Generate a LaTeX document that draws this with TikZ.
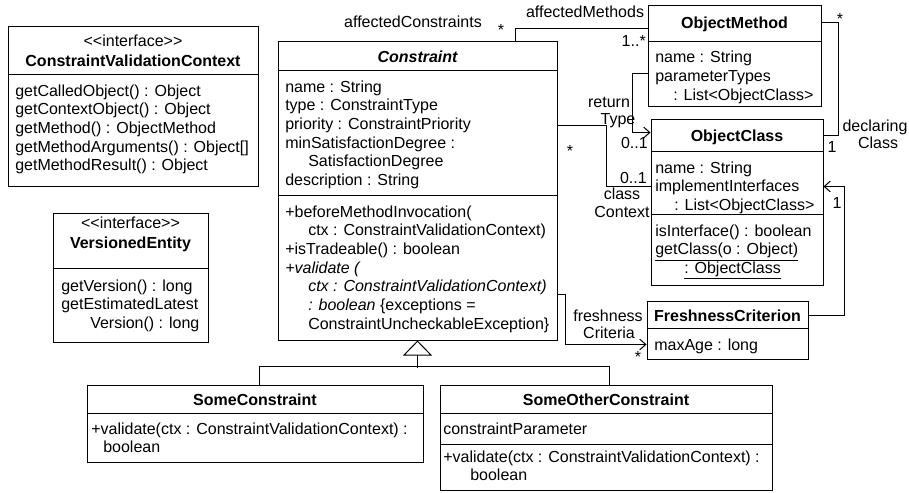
\documentclass[tikz,border=0pt]{standalone}
\usepackage{fontspec}
\setmainfont{Liberation Sans}
\usetikzlibrary{arrows.meta,calc,fit}

\begin{document}
\begin{tikzpicture}[x=0.75pt,y=-0.75pt,font=\fontsize{12}{14}\selectfont,
  box/.style = {draw,line width=0.75pt,inner sep=0pt},
  row/.style = {anchor=base west,inner sep=0pt},
  title/.style = {anchor=base,inner sep=0pt,font=\fontsize{12}{14}\selectfont\bfseries},
  lbl/.style = {anchor=base,inner sep=0pt},
  link/.style = {line width=0.75pt},
  nav/.style = {link,-{Straight Barb[length=4.5pt,width=8pt]}},
  gen/.style = {link,-{Triangle[open,length=11.25pt,width=21.75pt]}}]
\useasboundingbox (0,0) rectangle (909,492);
\node[box,fit={(8,27) (258,186)}] (cvc) {};
\node[box,fit={(53,213) (208,342)}] (ve) {};
\node[box,fit={(278,42) (557,340)}] (constraint) {};
\node[box,fit={(648,6) (821,106)}] (om) {};
\node[box,fit={(651,119) (823,285)}] (oc) {};
\node[box,fit={(647,301) (808,359)}] (fc) {};
\node[box,fit={(87,385) (423,462)}] (sc) {};
\node[box,fit={(440,385) (772,490)}] (soc) {};
\foreach \b/\d in {cvc/48, ve/56, constraint/29, constraint/154, om/36, oc/33, oc/96, fc/28, sc/29, soc/29, soc/60}
    \draw[link] ($(\b.north west)+(0,\d)$) -- ($(\b.north east)+(0,\d)$);
\node[lbl] (cvc-st) at (133,46) {<\kern0pt<interface>\kern0pt>};
\node[title] (cvc-t) at (133,66) {ConstraintValidationContext};
\node[lbl] (ve-st) at (130.5,228) {<\kern0pt<interface>\kern0pt>};
\node[title] (ve-t) at (130.5,248) {VersionedEntity};
\node[title] (constraint-t) at (417.5,63) {\itshape Constraint};
\node[title] (om-t) at (734.5,29) {ObjectMethod};
\node[title] (oc-t) at (737,141) {ObjectClass};
\node[title] (fc-t) at (727.5,321) {FreshnessCriterion};
\node[title] (sc-t) at (255,405) {SomeConstraint};
\node[title] (soc-t) at (606,405) {SomeOtherConstraint};
\foreach \t [count=\i from 0] in {getCalledObject() : Object, getContextObject() : Object, getMethod() : ObjectMethod, getMethodArguments() : Object[], getMethodResult() : Object}
    \node[row] (cvc-m\i) at (15,96+\i*18.67) {\t};
\foreach \dx/\t [count=\i from 0] in {0/getVersion() : long, 0/getEstimatedLatest, 29/Version() : long}
    \node[row] (ve-m\i) at (61+\dx,291+\i*18.67) {\t};
\foreach \dx/\t [count=\i from 0] in {0/name : String, 0/type : ConstraintType, 0/priority : ConstraintPriority, 0/minSatisfactionDegree :, 23/SatisfactionDegree, 0/description : String}
    \node[row] (constraint-a\i) at (285+\dx,92+\i*18.67) {\t};
\foreach \dx/\t [count=\i from 0] in {0/+beforeMethodInvocation(, 23/ctx : ConstraintValidationContext), 0/+isTradeable() : boolean, 0/\textit{+validate (}, 23/\textit{ctx : ConstraintValidationContext)}, 23/{\textit{: boolean} \{exceptions =}, 23/ConstraintUncheckableException\}}
    \node[row] (constraint-m\i) at (285+\dx,217+\i*18.67) {\t};
\foreach \dx/\t [count=\i from 0] in {0/name : String, 0/parameterTypes, 18/: List<ObjectClass>}
    \node[row] (om-a\i) at (655+\dx,63+\i*18.67) {\t};
\foreach \dx/\t [count=\i from 0] in {0/name : String, 0/implementInterfaces, 19/: List<ObjectClass>}
    \node[row] (oc-a\i) at (655+\dx,173+\i*18.67) {\t};
\foreach \dx/\t [count=\i from 0] in {0/isInterface() : boolean, 0/\underline{getClass(o : Object)}, 29/\underline{: ObjectClass}}
    \node[row] (oc-m\i) at (655+\dx,236+\i*18.67) {\t};
\node[row] (fc-a0) at (654,350) {maxAge : long};
\foreach \dx/\t [count=\i from 0] in {0/+validate(ctx : ConstraintValidationContext) :, 12/boolean}
    \node[row] (sc-m\i) at (91+\dx,434+\i*18.67) {\t};
\node[row] (soc-a0) at (443,434) {constraintParameter};
\foreach \dx/\t [count=\i from 0] in {0/+validate(ctx : ConstraintValidationContext) :, 27/boolean}
    \node[row] (soc-m\i) at (443+\dx,462+\i*18.67) {\t};
\draw[link] ($(constraint.north west)+(238,0)$) |- ($(om.north west)+(0,23)$);
\draw[nav] ($(om.north west)+(0,68)$) -- ++(-15,0) |- ($(oc.north west)+(0,14)$);
\draw[link] ($(om.north east)+(0,17)$) -- ++(17,0) |- ($(oc.north east)+(0,17)$);
\draw[link] ($(constraint.north east)+(0,84)$) -- ++(49,0) |- ($(oc.north west)+(0,68)$);
\draw[nav] ($(fc.north east)+(0,15)$) -- ++(36,0) |- ($(oc.north east)+(0,68)$);
\draw[nav] ($(constraint.north east)+(0,253)$) -- ++(8,0) |- ($(fc.north west)+(0,44)$);
\draw[gen] ($(constraint.south)+(0,27)$) -- (constraint.south);
\draw[link] ($(sc.north)+(4,0)$) |- ($(soc.north)+(3,-18)$) -- ($(soc.north)+(3,0)$);
\node[lbl] (l-ac) at (413,28) {affectedConstraints};
\node[lbl] (m-ac) at (501,36) {*};
\node[lbl] (l-am) at (585,18) {affectedMethods};
\node[lbl,anchor=base east] (m-am) at (646,46) {1..*};
\node[lbl] (l-rt1) at (609,107) {return};
\node[lbl] (l-rt2) at (618,124) {Type};
\node[lbl,anchor=base east] (m-rt) at (648,148) {0..1};
\node[lbl] (m-dm) at (840,25) {*};
\node[lbl] (m-dc) at (832,152) {1};
\node[lbl] (l-dc1) at (875,131) {declaring};
\node[lbl] (l-dc2) at (878,148) {Class};
\node[lbl] (m-cc1) at (570,156) {*};
\node[lbl,anchor=base east] (m-cc2) at (647,183) {0..1};
\node[lbl] (l-cc1) at (622,199) {class};
\node[lbl] (l-cc2) at (622,217) {Context};
\node[lbl] (m-ii) at (837,208) {1};
\node[lbl] (l-fc1) at (608,321) {freshness};
\node[lbl] (l-fc2) at (609,338) {Criteria};
\node[lbl] (m-fc) at (638,362) {*};
\end{tikzpicture}
\end{document}
